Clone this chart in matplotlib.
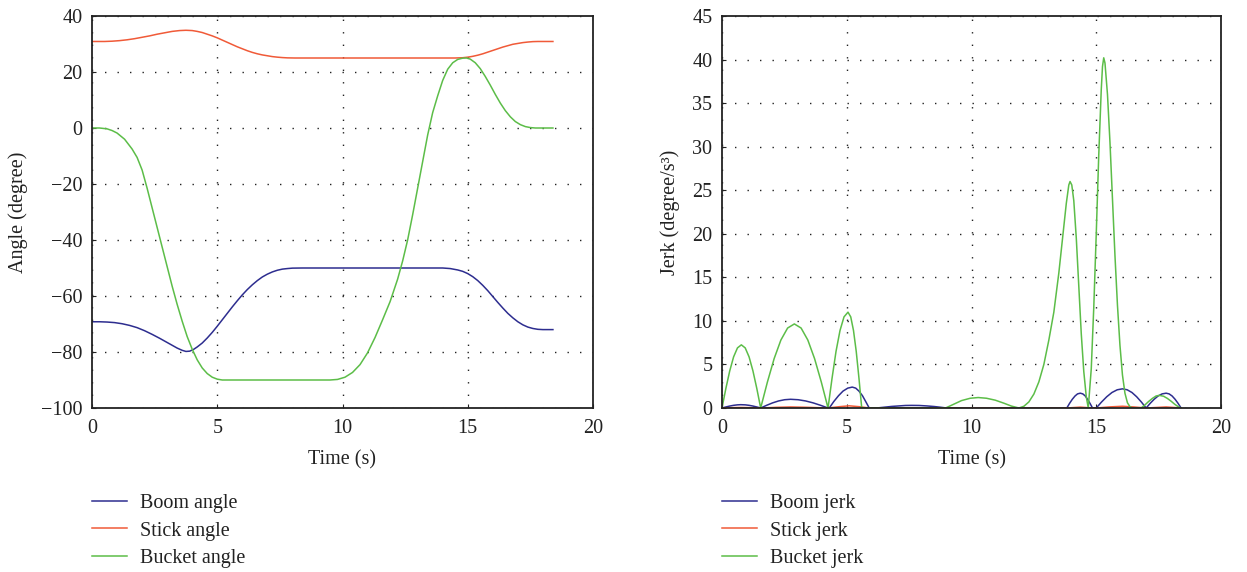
import matplotlib
matplotlib.use("Agg")
import matplotlib.pyplot as plt

# ---------------- data ----------------
# Angle curves (degree) vs time (s)
boom_t = [0, 0.3, 0.6, 0.9, 1.2, 1.5, 1.8, 2.1, 2.4, 2.7, 3.0, 3.2, 3.4, 3.6, 3.75, 3.9, 4.05, 4.2, 4.4, 4.6,
          4.8, 5.0, 5.2, 5.4, 5.6, 5.8, 6.0, 6.2, 6.4, 6.6, 6.8, 7.0, 7.2, 7.4, 7.6, 7.8, 8.0, 8.4,
          14.0, 14.3, 14.6, 14.8, 15.0, 15.2, 15.4, 15.6, 15.8, 16.0, 16.2, 16.4, 16.6, 16.8, 17.0, 17.2, 17.4,
          17.6, 17.8, 18.0, 18.4]
boom_v = [-69.2, -69.2, -69.3, -69.5, -69.9, -70.5, -71.3, -72.4, -73.7, -75.1, -76.6, -77.6, -78.6, -79.4,
          -79.8, -79.7, -79.1, -78.2, -76.8, -75.0, -73.0, -70.8, -68.5, -66.2, -63.9, -61.7, -59.6, -57.7,
          -56.0, -54.5, -53.2, -52.2, -51.4, -50.8, -50.4, -50.2, -50.05, -50.0,
          -50.0, -50.2, -50.7, -51.2, -52.0, -53.1, -54.5, -56.2, -58.1, -60.2, -62.3, -64.3, -66.2, -67.8,
          -69.2, -70.3, -71.1, -71.6, -71.9, -72.0, -72.0]

stick_t = [0, 0.5, 0.8, 1.1, 1.4, 1.7, 2.0, 2.3, 2.6, 2.9, 3.2, 3.5, 3.75, 4.0, 4.2, 4.4, 4.6, 4.8, 5.0, 5.2,
           5.4, 5.6, 5.8, 6.0, 6.2, 6.4, 6.6, 6.8, 7.0, 7.2, 7.4, 7.6, 7.8, 8.1,
           14.5, 14.8, 15.0, 15.2, 15.4, 15.6, 15.8, 16.0, 16.2, 16.4, 16.6, 16.8, 17.0, 17.2, 17.4, 17.6,
           17.8, 18.4]
stick_v = [30.9, 30.9, 31.0, 31.2, 31.5, 31.9, 32.4, 32.9, 33.5, 34.0, 34.5, 34.8, 34.9, 34.8, 34.5, 34.1,
           33.5, 32.9, 32.2, 31.4, 30.6, 29.8, 29.0, 28.3, 27.6, 27.0, 26.5, 26.1, 25.8, 25.5, 25.3, 25.15,
           25.05, 25.0,
           25.0, 25.1, 25.3, 25.6, 26.0, 26.5, 27.1, 27.7, 28.3, 28.9, 29.4, 29.9, 30.2, 30.5, 30.7, 30.85,
           30.9, 30.9]

bucket_t = [0, 0.3, 0.6, 0.8, 1.0, 1.3, 1.6, 1.8, 2.0, 2.2, 2.4, 2.6, 2.8, 3.0, 3.2, 3.4, 3.6, 3.8, 4.0, 4.2,
            4.4, 4.6, 4.8, 5.0, 5.2,
            9.5, 9.8, 10.1, 10.4, 10.7, 11.0, 11.3, 11.6, 11.9, 12.2, 12.4, 12.6, 12.8, 13.0, 13.2, 13.4,
            13.6, 13.8, 14.0, 14.2, 14.4, 14.6, 14.8, 14.95, 15.1, 15.3, 15.5, 15.7, 15.9, 16.1, 16.3, 16.5,
            16.7, 16.9, 17.1, 17.3, 17.5, 17.7, 18.4]
bucket_v = [0.0, 0.0, -0.3, -0.9, -1.8, -4.0, -7.5, -10.5, -15.0, -21.5, -28.5, -35.5, -42.5, -49.5, -56.5,
            -63.0, -69.0, -74.5, -79.0, -82.8, -85.7, -87.7, -89.0, -89.7, -90.0,
            -90.0, -89.8, -89.0, -87.3, -84.5, -80.3, -74.8, -68.5, -62.0, -54.0, -47.5, -40.0, -31.0, -21.5,
            -12.0, -2.5, 5.5, 11.5, 17.0, 21.0, 23.3, 24.5, 24.95, 25.0, 24.6, 23.3, 21.2, 18.4, 15.3, 12.0,
            8.9, 6.2, 4.0, 2.3, 1.2, 0.5, 0.15, 0.0, 0.0]

# Jerk curves (degree/s^3) vs time (s)
bj_t = [0, 0.155, 0.31, 0.465, 0.62, 0.75, 0.93, 1.085, 1.24, 1.395, 1.55,
        1.79, 2.03, 2.27, 2.51, 2.75, 3.05, 3.35, 3.65, 3.95, 4.25,
        4.3, 4.48, 4.67, 4.85, 5.04, 5.22, 5.36, 5.49, 5.63, 5.76, 5.9,
        6.2, 6.5, 6.8, 7.1, 7.35, 7.6, 7.9, 8.2, 8.5, 8.75, 9.0,
        13.82, 13.93, 14.04, 14.15, 14.25, 14.36, 14.46, 14.56, 14.65, 14.75, 14.85,
        15.0, 15.21, 15.42, 15.63, 15.84, 16.05, 16.24, 16.43, 16.62, 16.81, 17.0,
        17.16, 17.32, 17.48, 17.64, 17.8, 17.92, 18.04, 18.16, 18.28, 18.4]
bj_v = [0, 0.117, 0.223, 0.307, 0.361, 0.38, 0.361, 0.307, 0.223, 0.117, 0,
        0.31, 0.59, 0.81, 0.95, 1.0, 0.95, 0.81, 0.59, 0.31, 0,
        0, 0.74, 1.41, 1.94, 2.28, 2.4, 2.28, 1.94, 1.41, 0.74, 0,
        0, 0.09, 0.18, 0.24, 0.29, 0.3, 0.29, 0.24, 0.17, 0.09, 0,
        0, 0.53, 1.0, 1.38, 1.62, 1.7, 1.62, 1.38, 1.0, 0.53, 0,
        0, 0.68, 1.29, 1.78, 2.09, 2.2, 2.09, 1.78, 1.29, 0.68, 0,
        0.53, 1.0, 1.38, 1.62, 1.7, 1.62, 1.38, 1.0, 0.53, 0]

sj_t = [0, 0.4, 0.75, 1.1, 1.55, 2.2, 2.75, 3.4, 4.25, 4.7, 5.1, 5.5, 5.9, 7.6, 9.0,
        13.82, 14.36, 14.85, 15.0, 15.5, 16.05, 16.5, 17.0, 17.8, 18.4]
sj_v = [0, 0.04, 0.06, 0.04, 0, 0.08, 0.12, 0.08, 0, 0.15, 0.25, 0.15, 0, 0.03, 0,
        0, 0.1, 0, 0, 0.12, 0.2, 0.12, 0, 0.12, 0]

gj_t = [0, 0.155, 0.31, 0.465, 0.62, 0.775, 0.93, 1.085, 1.24, 1.395, 1.55,
        1.82, 2.09, 2.36, 2.63, 2.9, 3.17, 3.44, 3.71, 3.98, 4.25,
        4.41, 4.57, 4.73, 4.89, 5.05, 5.16, 5.27, 5.38, 5.49, 5.6,
        8.96, 9.3, 9.6, 9.95, 10.27, 10.6, 10.95, 11.3, 11.6, 11.9,
        12.1, 12.3, 12.5, 12.7, 12.9, 13.1, 13.3, 13.5, 13.65, 13.8, 13.9, 13.95, 14.02, 14.1, 14.2, 14.3,
        14.4, 14.5, 14.6, 14.68,
        14.8, 14.9, 15.0, 15.1, 15.2, 15.25, 15.3, 15.35, 15.45, 15.55, 15.65, 15.75, 15.85, 15.95, 16.05,
        16.15, 16.25, 16.35, 16.45,
        16.8, 16.95, 17.1, 17.25, 17.4, 17.53, 17.7, 17.85, 18.0, 18.15, 18.3, 18.4]
gj_v = [0, 2.24, 4.26, 5.87, 6.9, 7.25, 6.9, 5.87, 4.26, 2.24, 0,
        2.98, 5.67, 7.8, 9.18, 9.65, 9.18, 7.8, 5.67, 2.98, 0,
        3.4, 6.5, 8.9, 10.46, 11.0, 10.46, 8.9, 6.5, 3.4, 0,
        0, 0.45, 0.85, 1.12, 1.2, 1.12, 0.9, 0.55, 0.22, 0,
        0.2, 0.7, 1.6, 3.0, 5.0, 7.8, 11.0, 15.5, 19.5, 23.5, 25.6, 26.0, 25.6, 23.8, 19.5, 14.0,
        8.5, 4.2, 1.3, 0,
        4.5, 11.5, 20.0, 29.0, 36.5, 39.2, 40.2, 39.6, 36.0, 30.5, 24.0, 17.5, 11.8, 7.2, 3.8,
        1.7, 0.6, 0.15, 0,
        0, 0.35, 0.75, 1.1, 1.38, 1.45, 1.35, 1.1, 0.78, 0.42, 0.12, 0]

angle_labels = ["Boom angle", "Stick angle", "Bucket angle"]
jerk_labels = ["Boom jerk", "Stick jerk", "Bucket jerk"]
xticks = [0, 5, 10, 15, 20]
angle_yticks = [-100, -80, -60, -40, -20, 0, 20, 40]
angle_yticklabels = ["\u2212100", "\u221280", "\u221260", "\u221240", "\u221220", "0", "20", "40"]
jerk_yticks = [0, 5, 10, 15, 20, 25, 30, 35, 40, 45]

# ---------------- style ----------------
BLUE = "#2d2d8f"
RED = "#f05a38"
GREEN = "#5cbd48"
FS = 14.5
plt.rcParams["font.family"] = ["Liberation Serif", "DejaVu Serif"]
plt.rcParams["font.size"] = FS

fig = plt.figure(figsize=(12.47, 5.72), dpi=100)
ax1 = fig.add_axes([92 / 1247, 1 - 408 / 572, 501 / 1247, 392 / 572])
ax2 = fig.add_axes([722 / 1247, 1 - 408 / 572, 499 / 1247, 392 / 572])


def style(ax):
    ax.set_xlim(0, 20)
    ax.set_xticks(xticks)
    ax.grid(True, color="#222222", linestyle=(0, (1, 8)), linewidth=1.0)
    ax.tick_params(direction="in", length=3, width=0.8, labelsize=FS, colors="#222222",
                   labelcolor="#222222")
    ax.tick_params(axis="x", pad=8)
    ax.tick_params(axis="y", pad=7)
    for s in ax.spines.values():
        s.set_linewidth(1.3)
        s.set_color("#222222")
    ax.set_xlabel("Time (s)", fontsize=FS, labelpad=9, color="#222222")


def legend(ax, handles, labels):
    ax.legend(handles, labels, loc="upper left", bbox_to_anchor=(0.0, -0.218),
              frameon=False, handlelength=1.74, handletextpad=0.65, labelspacing=0.44,
              borderpad=0, borderaxespad=0, fontsize=FS, labelcolor="#222222")


l1, = ax1.plot(boom_t, boom_v, color=BLUE, lw=1.1)
l2, = ax1.plot(stick_t, stick_v, color=RED, lw=1.1)
l3, = ax1.plot(bucket_t, bucket_v, color=GREEN, lw=1.1)
ax1.set_ylim(-100, 40)
ax1.set_yticks(angle_yticks)
ax1.set_yticklabels(angle_yticklabels)
ax1.set_ylabel("Angle (degree)", fontsize=FS, labelpad=9, color="#222222")
style(ax1)
legend(ax1, [l1, l2, l3], angle_labels)

j1, = ax2.plot(bj_t, bj_v, color=BLUE, lw=1.1)
j2, = ax2.plot(sj_t, sj_v, color=RED, lw=1.1)
j3, = ax2.plot(gj_t, gj_v, color=GREEN, lw=1.1)
ax2.set_ylim(0, 45)
ax2.set_yticks(jerk_yticks)
ax2.set_ylabel("Jerk (degree/s\u00b3)", fontsize=FS, labelpad=9, color="#222222")
style(ax2)
legend(ax2, [j1, j2, j3], jerk_labels)

fig.savefig("out.png", dpi=100)
